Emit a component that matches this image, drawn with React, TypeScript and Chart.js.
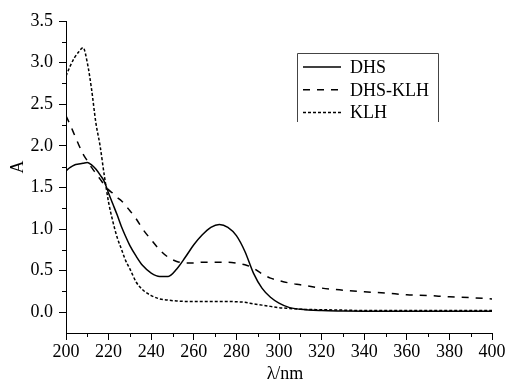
import React, { useEffect, useRef } from "react";
import { Chart, registerables } from "chart.js";

Chart.register(...registerables);

const wavelengths = [
  200, 202, 204, 206, 208, 210, 212, 214, 216, 218, 220, 222, 224, 226, 228, 230,
  233, 236, 240, 244, 248, 252, 256, 260, 264, 268, 272, 276, 280, 284, 288, 292,
  296, 300, 305, 310, 320, 330, 340, 350, 360, 370, 380, 390, 400,
];

const dhs = [
  1.7, 1.74, 1.77, 1.78, 1.79, 1.8, 1.77, 1.72, 1.65, 1.57, 1.43, 1.3, 1.17, 1.03, 0.91, 0.8,
  0.67, 0.56, 0.47, 0.43, 0.43, 0.52, 0.66, 0.81, 0.93, 1.02, 1.055, 1.02, 0.92, 0.73, 0.47, 0.29,
  0.18, 0.11, 0.055, 0.035, 0.02, 0.015, 0.012, 0.01, 0.01, 0.01, 0.01, 0.01, 0.01,
];

const dhsKlh = [
  2.36, 2.25, 2.13, 2.01, 1.9, 1.82, 1.74, 1.67, 1.6, 1.53, 1.47, 1.43, 1.38, 1.34, 1.28, 1.22,
  1.12, 1.0, 0.87, 0.75, 0.66, 0.61, 0.59, 0.59, 0.6, 0.6, 0.6, 0.6, 0.59, 0.57, 0.53, 0.46,
  0.41, 0.38, 0.35, 0.33, 0.29, 0.265, 0.245, 0.23, 0.21, 0.2, 0.185, 0.175, 0.16,
];

const klh = [
  2.84, 2.96, 3.06, 3.13, 3.18, 3.0, 2.68, 2.28, 2.0, 1.64, 1.32, 1.09, 0.9, 0.76, 0.62, 0.52,
  0.36, 0.27, 0.2, 0.16, 0.145, 0.135, 0.13, 0.13, 0.13, 0.13, 0.13, 0.13, 0.125, 0.12, 0.1, 0.085,
  0.07, 0.055, 0.045, 0.035, 0.03, 0.025, 0.02, 0.02, 0.02, 0.02, 0.02, 0.02, 0.02,
];

const seriesLabels = ["DHS", "DHS-KLH", "KLH"];
const yTickValues = [0, 0.5, 1.0, 1.5, 2.0, 2.5, 3.0, 3.5];
const yMinorValues = [0.25, 0.75, 1.25, 1.75, 2.25, 2.75, 3.25];
const xTickValues = [200, 220, 240, 260, 280, 300, 320, 340, 360, 380, 400];
const xMinorValues = [210, 230, 250, 270, 290, 310, 330, 350, 370, 390];
const xTitle = "λ/nm";
const yTitle = "A";

const FONT = '"Liberation Serif"';

const decorPlugin = {
  id: "decor",
  afterDraw(chart: any) {
    const { ctx, chartArea, scales } = chart;
    const xs = scales.x;
    const ys = scales.y;
    ctx.save();
    ctx.strokeStyle = "#000";
    ctx.lineWidth = 1;
    ctx.setLineDash([]);
    ctx.beginPath();
    for (const v of xMinorValues) {
      const px = Math.round(xs.getPixelForValue(v)) + 0.5;
      ctx.moveTo(px, chartArea.bottom);
      ctx.lineTo(px, chartArea.bottom + 4);
    }
    for (const v of yMinorValues) {
      const py = Math.round(ys.getPixelForValue(v)) + 0.5;
      ctx.moveTo(chartArea.left - 4, py);
      ctx.lineTo(chartArea.left, py);
    }
    ctx.stroke();

    ctx.fillStyle = "#000";
    ctx.font = `18px ${FONT}`;
    ctx.textAlign = "center";
    ctx.textBaseline = "middle";
    ctx.fillText(xTitle, (chartArea.left + chartArea.right) / 2 + 6, chartArea.bottom + 41);
    ctx.save();
    ctx.translate(chartArea.left - 48, chartArea.top + 146);
    ctx.rotate(-Math.PI / 2);
    ctx.fillText(yTitle, 0, 0);
    ctx.restore();

    // legend
    const lx = 297;
    const ly = 53;
    const lw = 141;
    const lh = 69;
    ctx.strokeStyle = "#444";
    ctx.lineWidth = 1;
    ctx.beginPath();
    ctx.moveTo(lx + 0.5, ly + lh);
    ctx.lineTo(lx + 0.5, ly + 0.5);
    ctx.lineTo(lx + lw + 0.5, ly + 0.5);
    ctx.lineTo(lx + lw + 0.5, ly + lh);
    ctx.stroke();
    ctx.textAlign = "left";
    chart.data.datasets.forEach((ds: any, i: number) => {
      const ry = 67 + i * 22.8;
      ctx.strokeStyle = "#000";
      ctx.lineWidth = ds.borderWidth;
      ctx.setLineDash(ds.borderDash || []);
      ctx.beginPath();
      ctx.moveTo(303, ry);
      ctx.lineTo(341, ry);
      ctx.stroke();
      ctx.setLineDash([]);
      ctx.fillText(ds.label, 350, ry + 1);
    });
    ctx.restore();
  },
};

export default function App() {
  const canvasRef = useRef<HTMLCanvasElement | null>(null);

  useEffect(() => {
    if (!canvasRef.current) return;
    const mk = (vals: number[]) => wavelengths.map((w, i) => ({ x: w, y: vals[i] }));
    Chart.defaults.font.family = FONT;
    const chart = new Chart(canvasRef.current, {
      type: "line",
      data: {
        datasets: [
          { label: seriesLabels[0], data: mk(dhs), borderColor: "#000", borderWidth: 1.5, borderDash: [] },
          { label: seriesLabels[1], data: mk(dhsKlh), borderColor: "#000", borderWidth: 1.5, borderDash: [7, 7] },
          { label: seriesLabels[2], data: mk(klh), borderColor: "#000", borderWidth: 1.5, borderDash: [3, 2] },
        ],
      },
      options: {
        responsive: false,
        animation: false,
        devicePixelRatio: 1,
        layout: { padding: { top: 21, right: 15, left: 0, bottom: 0 } },
        elements: {
          point: { radius: 0 },
          line: { cubicInterpolationMode: "monotone", fill: false },
        },
        plugins: { legend: { display: false }, tooltip: { enabled: false } },
        scales: {
          x: {
            type: "linear",
            min: 200,
            max: 400,
            afterBuildTicks: (s: any) => {
              s.ticks = xTickValues.map((value) => ({ value }));
            },
            afterFit: (s: any) => {
              s.height = 50;
            },
            grid: { display: true, drawOnChartArea: false, drawTicks: true, tickLength: 7, color: "#000" },
            border: { display: true, color: "#000", width: 1 },
            ticks: {
              color: "#000",
              font: { family: FONT, size: 18 },
              padding: 1,
              maxRotation: 0,
              autoSkip: false,
              callback: (v: any) => String(v),
            },
          },
          y: {
            type: "linear",
            min: -0.25,
            max: 3.5,
            afterBuildTicks: (s: any) => {
              s.ticks = yTickValues.map((value) => ({ value }));
            },
            afterFit: (s: any) => {
              s.width = 66;
            },
            grid: { display: true, drawOnChartArea: false, drawTicks: true, tickLength: 7, color: "#000" },
            border: { display: true, color: "#000", width: 1 },
            ticks: {
              color: "#000",
              font: { family: FONT, size: 18 },
              padding: 6,
              autoSkip: false,
              callback: (v: any) => Number(v).toFixed(1),
            },
          },
        },
      },
      plugins: [decorPlugin],
    } as any);
    return () => chart.destroy();
  }, []);

  return (
    <div style={{ position: "absolute", left: 0, top: 0, width: 507, height: 383, background: "#fff" }}>
      <canvas ref={canvasRef} width={507} height={383} style={{ width: 507, height: 383, display: "block" }} />
    </div>
  );
}
